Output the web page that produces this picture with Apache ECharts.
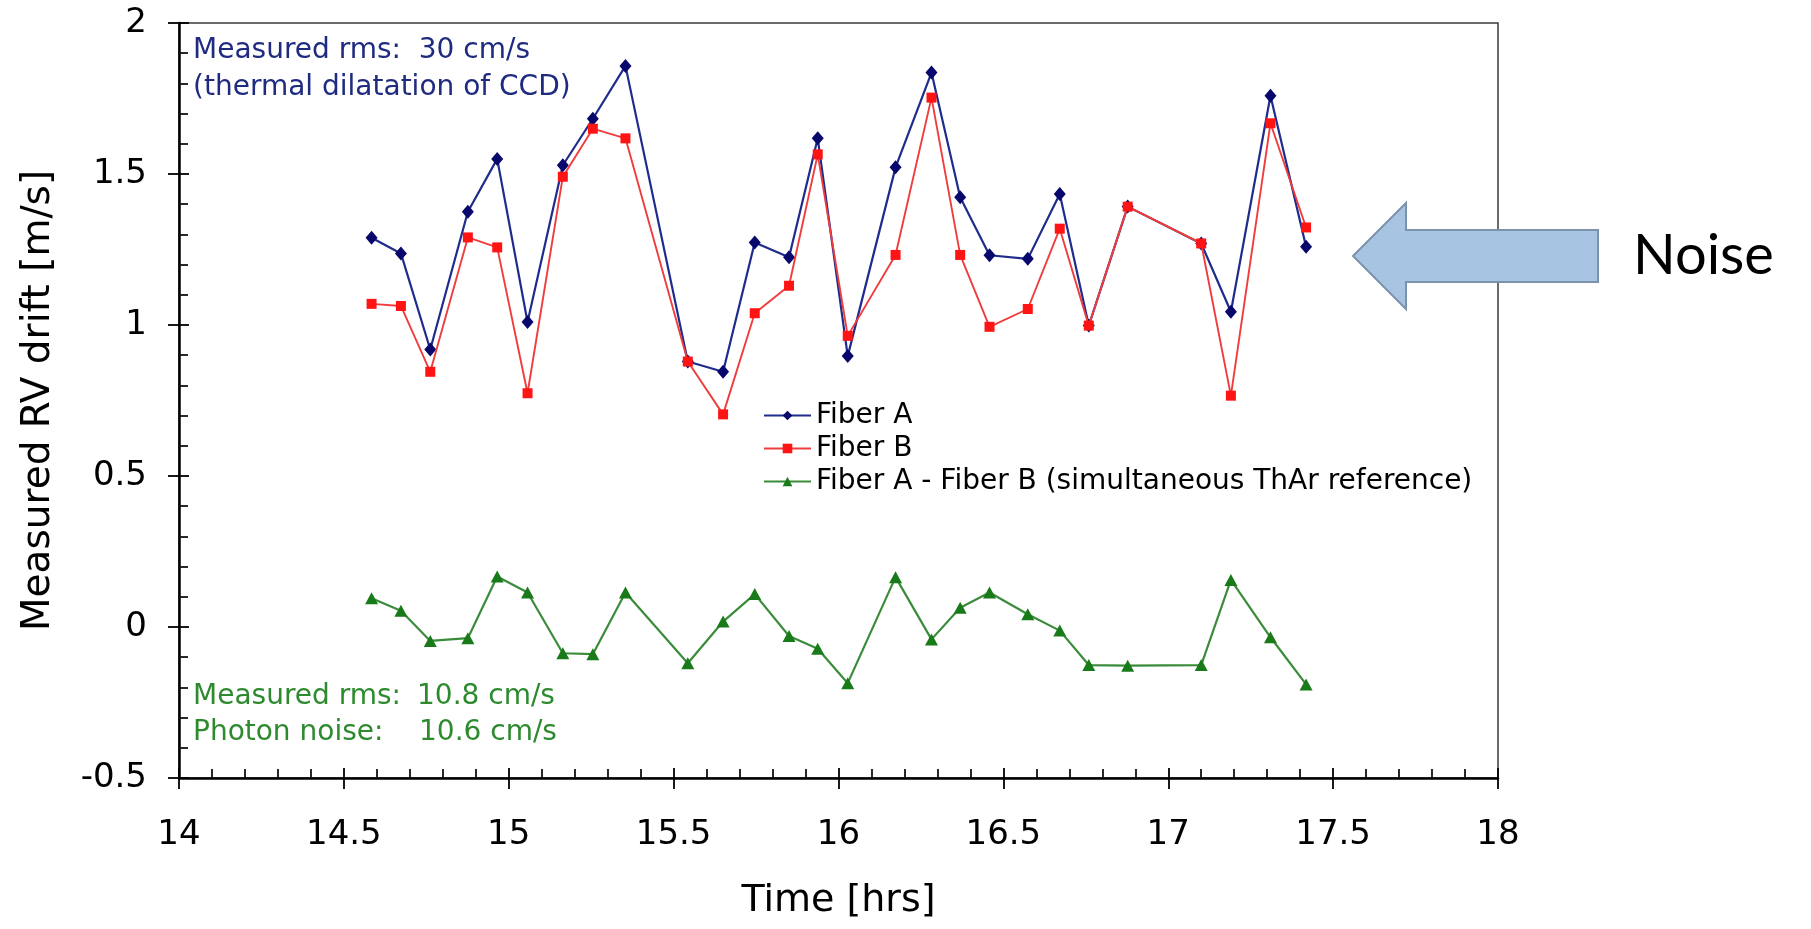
<!DOCTYPE html>
<html>
<head>
<meta charset="utf-8">
<script src="https://cdn.jsdelivr.net/npm/echarts@6/dist/echarts.min.js"></script>
<style>
  html, body { margin: 0; padding: 0; background: #ffffff; }
  #chart { width: 1811px; height: 929px; }
</style>
</head>
<body>
<div id="chart"></div>
<script>
// ---- Data ----
const timeHrs = [14.584, 14.673, 14.762, 14.876, 14.965, 15.057, 15.164, 15.255, 15.354, 15.543,
                 15.650, 15.746, 15.850, 15.937, 16.028, 16.173, 16.282, 16.369, 16.458, 16.574,
                 16.671, 16.759, 16.877, 17.100, 17.190, 17.310, 17.418];
const fiberA = [1.289, 1.237, 0.919, 1.375, 1.550, 1.010, 1.529, 1.683, 1.858, 0.879,
                0.845, 1.273, 1.224, 1.618, 0.897, 1.522, 1.836, 1.423, 1.231, 1.219,
                1.434, 0.998, 1.392, 1.270, 1.044, 1.759, 1.259];
const fiberB = [1.070, 1.063, 0.845, 1.290, 1.257, 0.774, 1.491, 1.650, 1.618, 0.879,
                0.704, 1.039, 1.130, 1.565, 0.964, 1.232, 1.753, 1.232, 0.994, 1.053,
                1.319, 0.998, 1.392, 1.270, 0.766, 1.668, 1.323];
const fiberDiff = [0.095, 0.054, -0.046, -0.037, 0.167, 0.114, -0.087, -0.090, 0.114, -0.120,
                   0.018, 0.109, -0.030, -0.072, -0.186, 0.165, -0.041, 0.064, 0.114, 0.042,
                   -0.012, -0.126, -0.128, -0.126, 0.156, -0.034, -0.190];
const seriesNames = ['Fiber A', 'Fiber B', 'Fiber A - Fiber B (simultaneous ThAr reference)'];
const xRange = [14, 18];
const yRange = [-0.5, 2];
const xTitle = 'Time [hrs]';
const yTitle = 'Measured RV drift [m/s]';
const noteBlue = ['Measured rms:  30 cm/s', '(thermal dilatation of CCD)'];
const noteGreenLabels = ['Measured rms:', 'Photon noise:'];
const noteGreenValues = ['10.8 cm/s', '10.6 cm/s'];
const arrowText = 'Noise';

// ---- Chart ----
const FONT = '"DejaVu Sans", "Liberation Sans", Arial, sans-serif';
const pairs = ys => timeHrs.map((t, i) => [t, ys[i]]);
const chart = echarts.init(document.getElementById('chart'), null, { renderer: 'canvas' });
const gridRect = { left: 179, right: 313, top: 23, bottom: 151 };

const option = {
  animation: false,
  backgroundColor: '#ffffff',
  grid: [
    Object.assign({ show: true, borderColor: '#3a3a3a', borderWidth: 1.5, backgroundColor: 'transparent' }, gridRect),
    Object.assign({ show: false }, gridRect)
  ],
  xAxis: [
    {
      type: 'value', gridIndex: 0, min: xRange[0], max: xRange[1], interval: 0.5, position: 'bottom',
      axisLine: { show: true, onZero: false, lineStyle: { color: '#000', width: 2.5 } },
      axisTick: { show: true, inside: true, length: 10, lineStyle: { color: '#000', width: 1.8 } },
      minorTick: { show: true, splitNumber: 5, length: 9, lineStyle: { color: '#111', width: 1.8 } },
      axisLabel: { show: true, margin: 40, color: '#000', fontFamily: FONT, fontSize: 34 },
      splitLine: { show: false },
      name: xTitle, nameLocation: 'middle', nameGap: 104,
      nameTextStyle: { color: '#000', fontFamily: FONT, fontSize: 38 }
    },
    {
      type: 'value', gridIndex: 1, min: xRange[0], max: xRange[1], interval: 0.5, position: 'bottom',
      axisLine: { show: false, onZero: false },
      axisTick: { show: true, inside: false, length: 11, lineStyle: { color: '#000', width: 1.8 } },
      axisLabel: { show: false },
      splitLine: { show: false }
    }
  ],
  yAxis: [
    {
      type: 'value', gridIndex: 0, min: yRange[0], max: yRange[1], interval: 0.5, position: 'left',
      axisLine: { show: true, onZero: false, lineStyle: { color: '#000', width: 2.5 } },
      axisTick: { show: true, inside: true, length: 10, lineStyle: { color: '#000', width: 1.8 } },
      minorTick: { show: true, splitNumber: 5, length: 9, lineStyle: { color: '#111', width: 1.8 } },
      axisLabel: { show: true, margin: 32, color: '#000', fontFamily: FONT, fontSize: 34 },
      splitLine: { show: false },
      name: yTitle, nameLocation: 'middle', nameGap: 121, nameRotate: 90,
      nameTextStyle: { color: '#000', fontFamily: FONT, fontSize: 39 }
    },
    {
      type: 'value', gridIndex: 1, min: yRange[0], max: yRange[1], interval: 0.5, position: 'left',
      axisLine: { show: false, onZero: false },
      axisTick: { show: true, inside: false, length: 11, lineStyle: { color: '#000', width: 1.8 } },
      axisLabel: { show: false },
      splitLine: { show: false }
    }
  ],
  legend: {
    orient: 'vertical', left: 758, top: 396, padding: 5,
    itemWidth: 47, itemHeight: 12, itemGap: 4,
    textStyle: { color: '#000', fontFamily: FONT, fontSize: 28, lineHeight: 29 },
    data: seriesNames
  },
  series: [
    {
      name: seriesNames[0], type: 'line', xAxisIndex: 0, yAxisIndex: 0,
      data: pairs(fiberA), symbol: 'diamond', symbolSize: [12, 14], showAllSymbol: true,
      lineStyle: { color: '#1f2c8c', width: 2.2 },
      itemStyle: { color: '#07076c' }, z: 3
    },
    {
      name: seriesNames[1], type: 'line', xAxisIndex: 0, yAxisIndex: 0,
      data: pairs(fiberB), symbol: 'rect', symbolSize: 10, showAllSymbol: true,
      lineStyle: { color: '#f03c3c', width: 1.9 },
      itemStyle: { color: '#ff1414' }, z: 4
    },
    {
      name: seriesNames[2], type: 'line', xAxisIndex: 0, yAxisIndex: 0,
      data: pairs(fiberDiff), symbol: 'triangle', symbolSize: [13, 12], showAllSymbol: true,
      lineStyle: { color: '#3a8c3a', width: 2.2 },
      itemStyle: { color: '#187a18' }, z: 3
    }
  ],
  graphic: [
    { type: 'text', x: 193, y: 51, z: 50,
      style: { text: noteBlue[0], fill: '#1f2b80', fontFamily: FONT, fontSize: 28, align: 'left', verticalAlign: 'middle' } },
    { type: 'text', x: 193, y: 88, z: 50,
      style: { text: noteBlue[1], fill: '#1f2b80', fontFamily: FONT, fontSize: 28, align: 'left', verticalAlign: 'middle' } },
    { type: 'text', x: 193, y: 697, z: 50,
      style: { text: noteGreenLabels[0], fill: '#2e8a2e', fontFamily: FONT, fontSize: 28, align: 'left', verticalAlign: 'middle' } },
    { type: 'text', x: 417, y: 697, z: 50,
      style: { text: noteGreenValues[0], fill: '#2e8a2e', fontFamily: FONT, fontSize: 28, align: 'left', verticalAlign: 'middle' } },
    { type: 'text', x: 193, y: 733, z: 50,
      style: { text: noteGreenLabels[1], fill: '#2e8a2e', fontFamily: FONT, fontSize: 28, align: 'left', verticalAlign: 'middle' } },
    { type: 'text', x: 419, y: 733, z: 50,
      style: { text: noteGreenValues[1], fill: '#2e8a2e', fontFamily: FONT, fontSize: 28, align: 'left', verticalAlign: 'middle' } },
    { type: 'polygon', z: 100,
      shape: { points: [[1353, 256], [1406, 203], [1406, 230], [1598, 230], [1598, 282], [1406, 282], [1406, 309]] },
      style: { fill: '#a7c5e3', stroke: '#7b92ab', lineWidth: 2 } },
    { type: 'text', x: 1633, y: 256, z: 100,
      style: { text: arrowText, fill: '#000', fontFamily: 'Lato, "Open Sans", sans-serif', fontSize: 56, align: 'left', verticalAlign: 'middle' } }
  ]
};
chart.setOption(option);
</script>
</body>
</html>
